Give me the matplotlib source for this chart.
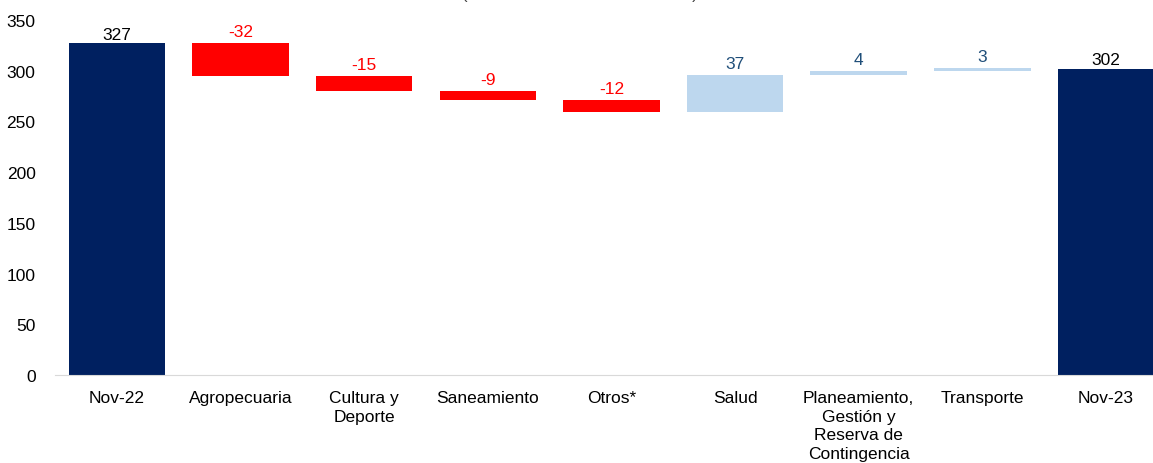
import matplotlib.pyplot as plt
import numpy as np

plt.rcParams['font.family'] = ['Liberation Sans', 'DejaVu Sans']

categorias = ["Nov-22", "Agropecuaria", "Cultura y\nDeporte", "Saneamiento", "Otros*",
              "Salud", "Planeamiento,\nGestión y\nReserva de\nContingencia", "Transporte", "Nov-23"]
inicio = 327
variaciones = [-32, -15, -9, -12, 37, 4, 3]
final = 302

NAVY = "#002060"
ROJO = "#FF0000"
CELESTE = "#BDD7EE"
AZUL_TXT = "#1F4E79"

fig = plt.figure(figsize=(11.53, 4.64), dpi=100)
ax = fig.add_axes((55 / 1153, 88 / 464, 1098 / 1153, 355 / 464))

x = np.arange(len(categorias))
ancho = 0.78
fs = 12.5

# barras iniciales y finales
ax.bar(x[0], inicio, width=ancho, color=NAVY)
ax.bar(x[-1], final, width=ancho, color=NAVY)
ax.annotate(str(inicio), (x[0], inicio), xytext=(0, 1), textcoords="offset points",
            ha="center", va="bottom", fontsize=fs, color="black")
ax.annotate(str(final), (x[-1], final), xytext=(0, 1), textcoords="offset points",
            ha="center", va="bottom", fontsize=fs, color="black")

# barras flotantes
nivel = inicio
for i, v in enumerate(variaciones, start=1):
    base = nivel + v if v < 0 else nivel
    col = ROJO if v < 0 else CELESTE
    ax.bar(x[i], abs(v), bottom=base, width=ancho, color=col)
    top = base + abs(v)
    ax.annotate(str(v), (x[i], top), xytext=(0, 3), textcoords="offset points",
                ha="center", va="bottom", fontsize=fs,
                color=ROJO if v < 0 else AZUL_TXT)
    nivel += v

ax.set_xlim(-0.5, 8.38)
ax.set_ylim(0, 350)
ax.set_yticks(range(0, 351, 50))
ax.set_xticks(x)
ax.set_xticklabels(categorias, fontsize=fs, linespacing=1.3)
ax.tick_params(axis="y", length=0, labelsize=fs, pad=14)
ax.tick_params(axis="x", length=0, pad=11)
for s in ["top", "right", "left"]:
    ax.spines[s].set_visible(False)
ax.spines["bottom"].set_color("#D9D9D9")

# titulo recortado en el borde superior, como en la referencia
fig.text(0.503, 1 + 1 / 464, "(Variación en millones de soles)", ha="center",
         va="baseline", fontsize=12, color="#404040")

fig.savefig("out.png", dpi=100)
